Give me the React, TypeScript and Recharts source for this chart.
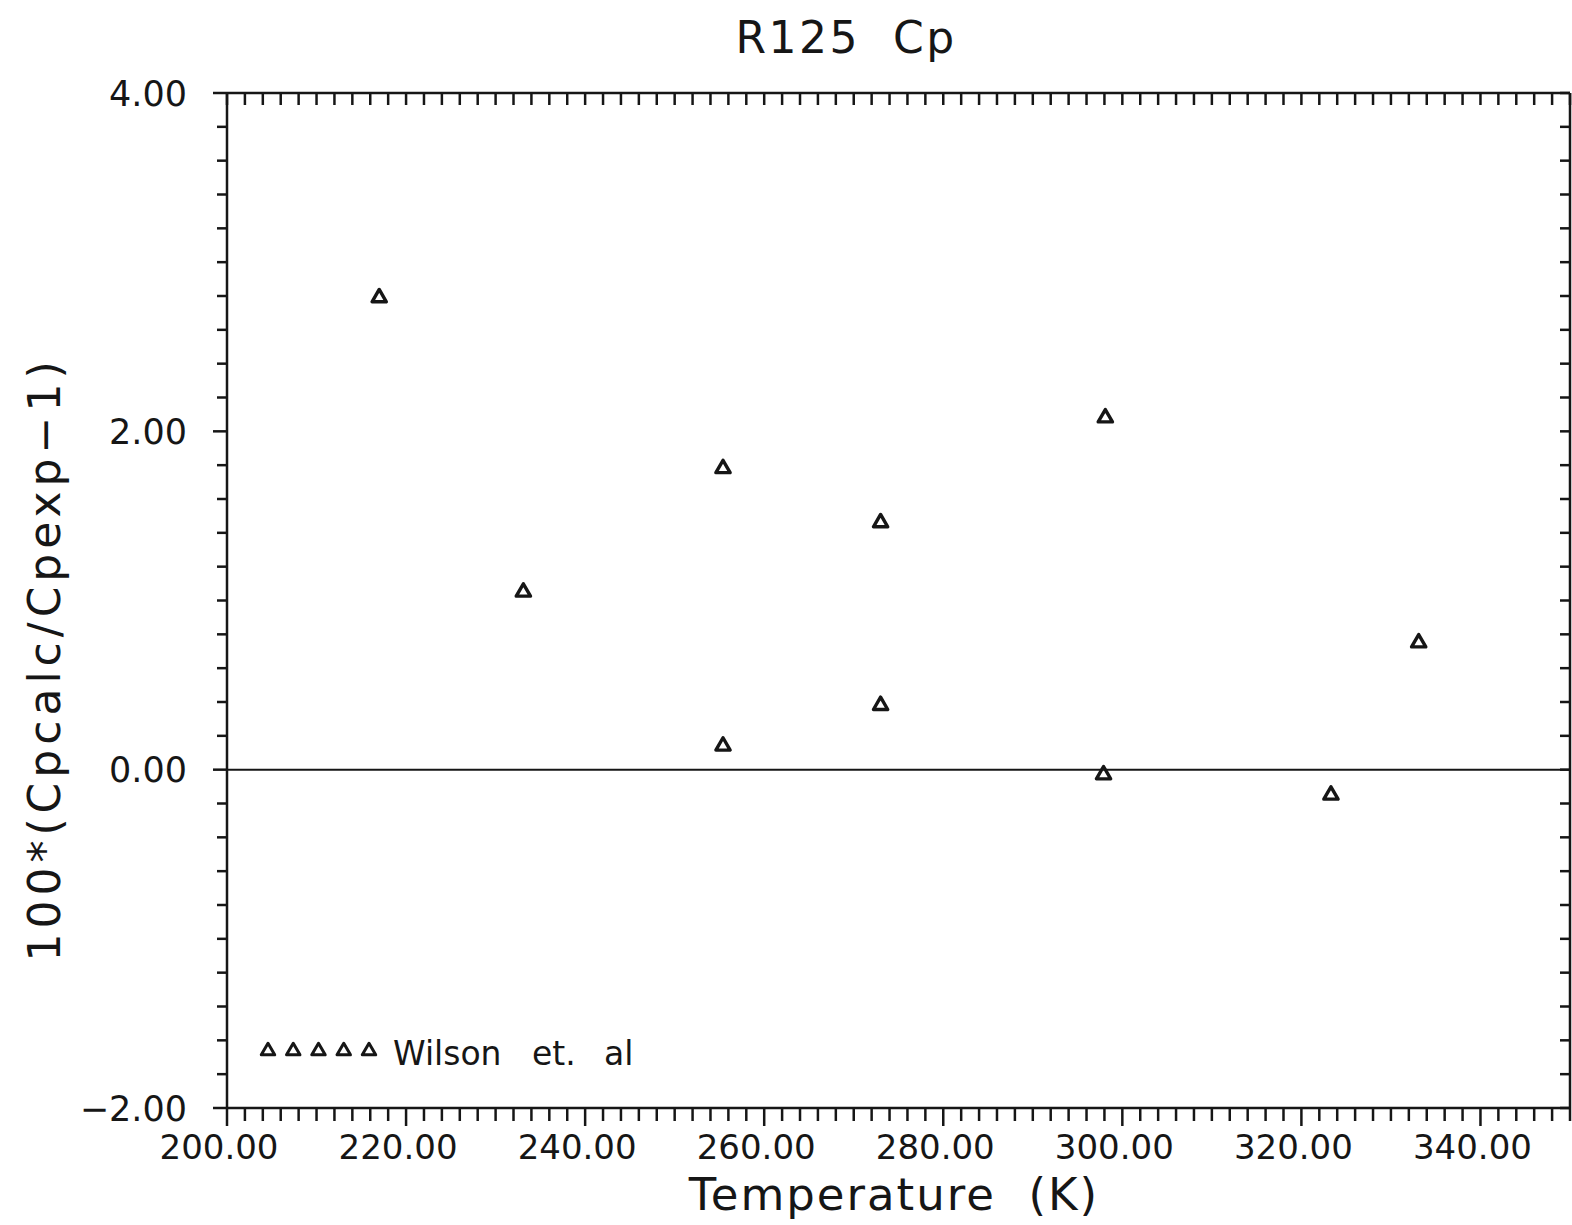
// R125 Cp deviation plot — Wilson et al. data against calculated Cp.
// Plotter-style frame: ticks on all four sides, zero line, one symbol series.

import { Legend, ReferenceLine, Scatter, ScatterChart, Symbols, XAxis, YAxis } from "recharts";

const INK = "#161616";
const FONT = "'DejaVu Sans', sans-serif";

// triangle centres
const temperatureK = [217.0, 233.1, 255.4, 255.4, 273.0, 273.0, 298.1, 297.9, 323.3, 333.1];
const deviationPct = [2.79, 1.05, 1.78, 0.14, 1.46, 0.38, 2.08, -0.03, -0.15, 0.75];

const xDomain = [200, 350];
const yDomain = [-2, 4];
const xLabelTicks = [200, 220, 240, 260, 280, 300, 320, 340];
const yLabelTicks = [-2, 0, 2, 4];

// minor ticks: every 2 K and every 0.2 %
const xTicks = Array.from({ length: 76 }, (_, i) => 200 + 2 * i);
const yTicks = Array.from({ length: 31 }, (_, i) => Math.round((-2 + 0.2 * i) * 10) / 10);

const points = temperatureK.map((t, i) => ({ t, d: deviationPct[i] }));

const fmt = (v: number) => (v < 0 ? "\u2212" : "") + Math.abs(v).toFixed(2);
const isMajor = (list: number[], v: number) => list.some((m) => Math.abs(m - v) < 1e-6);

function BottomTick(p: any) {
  const major = isMajor(xLabelTicks, p.payload.value);
  return (
    <g>
      <line x1={p.x} x2={p.x} y1={p.y} y2={p.y + (major ? 18 : 13)} stroke={INK} strokeWidth={2.5} />
      {major && (
        <text x={p.x - 8} y={p.y + 51} textAnchor="middle" fontFamily={FONT} fontSize={34} fill={INK}>
          {fmt(p.payload.value)}
        </text>
      )}
    </g>
  );
}

function TopTick(p: any) {
  return <line x1={p.x} x2={p.x} y1={p.y} y2={p.y + 12} stroke={INK} strokeWidth={2.5} />;
}

function LeftTick(p: any) {
  const major = isMajor(yLabelTicks, p.payload.value);
  return (
    <g>
      <line x1={p.x} x2={p.x - (major ? 14 : 10)} y1={p.y} y2={p.y} stroke={INK} strokeWidth={2.5} />
      {major && (
        <text x={p.x - 40} y={p.y + 12.5} textAnchor="end" fontFamily={FONT} fontSize={35} fill={INK}>
          {fmt(p.payload.value)}
        </text>
      )}
    </g>
  );
}

function RightTick(p: any) {
  return <line x1={p.x} x2={p.x - 10} y1={p.y} y2={p.y} stroke={INK} strokeWidth={2.5} />;
}

function Triangle(p: any) {
  return (
    <Symbols
      cx={p.cx}
      cy={p.cy}
      type="triangle"
      size={88}
      fill="none"
      stroke={INK}
      strokeWidth={3.4}
      strokeLinejoin="round"
    />
  );
}

// binds the top / right frame axes so their ticks get laid out; draws nothing
const Nothing = () => <g />;

function WilsonLegend() {
  return (
    <svg width={420} height={46}>
      {[0, 1, 2, 3, 4].map((i) => (
        <Symbols
          key={i}
          cx={13 + 25.25 * i}
          cy={21}
          type="triangle"
          size={78}
          fill="none"
          stroke={INK}
          strokeWidth={3}
          strokeLinejoin="round"
        />
      ))}
      <text y={35} fontFamily={FONT} fontSize={33} fill={INK}>
        <tspan x={138}>Wilson</tspan>
        <tspan x={277}>et.</tspan>
        <tspan x={349}>al</tspan>
      </text>
    </svg>
  );
}

export default function App() {
  return (
    <div style={{ position: "absolute", left: 0, top: 0, width: 1572, height: 1225, background: "#fff" }}>
      <ScatterChart width={1572} height={1225} margin={{ top: 0, right: 0, bottom: 0, left: 0 }}>
        <XAxis
          dataKey="t"
          type="number"
          domain={xDomain}
          ticks={xTicks}
          interval={0}
          allowDataOverflow
          height={117}
          tickSize={0}
          tickMargin={0}
          tickLine={false}
          axisLine={{ stroke: INK, strokeWidth: 2.5 }}
          tick={BottomTick}
        />
        <XAxis
          xAxisId="top"
          dataKey="t"
          orientation="top"
          type="number"
          domain={xDomain}
          ticks={xTicks}
          interval={0}
          allowDataOverflow
          height={93}
          tickSize={0}
          tickMargin={0}
          tickLine={false}
          axisLine={{ stroke: INK, strokeWidth: 2.5 }}
          tick={TopTick}
        />
        <YAxis
          dataKey="d"
          type="number"
          domain={yDomain}
          ticks={yTicks}
          interval={0}
          allowDataOverflow
          width={227}
          tickSize={0}
          tickMargin={0}
          tickLine={false}
          axisLine={{ stroke: INK, strokeWidth: 2.5 }}
          tick={LeftTick}
        />
        <YAxis
          yAxisId="right"
          dataKey="d"
          orientation="right"
          type="number"
          domain={yDomain}
          ticks={yTicks}
          interval={0}
          allowDataOverflow
          width={2}
          tickSize={0}
          tickMargin={0}
          tickLine={false}
          axisLine={{ stroke: INK, strokeWidth: 2.5 }}
          tick={RightTick}
        />
        <ReferenceLine y={0} stroke={INK} strokeWidth={2} />
        <Scatter data={points} name="Wilson et. al" shape={Triangle} isAnimationActive={false} />
        <Scatter
          data={points}
          xAxisId="top"
          yAxisId="right"
          shape={Nothing}
          legendType="none"
          isAnimationActive={false}
        />
        <Legend
          layout="vertical"
          align="center"
          verticalAlign="middle"
          wrapperStyle={{ left: 255, top: 1030, width: 420, height: 46 }}
          content={() => <WilsonLegend />}
        />
      </ScatterChart>

      <svg
        width={1572}
        height={1225}
        style={{ position: "absolute", left: 0, top: 0, pointerEvents: "none" }}
      >
        <text x={846} y={53} textAnchor="middle" fontFamily={FONT} fontSize={44} letterSpacing={2.5} fill={INK} style={{ whiteSpace: "pre" }}>
          {"R125  Cp"}
        </text>
        <text x={894} y={1210} textAnchor="middle" fontFamily={FONT} fontSize={45} letterSpacing={2} fill={INK} style={{ whiteSpace: "pre" }}>
          {"Temperature  (K)"}
        </text>
        <text
          transform="translate(60 659) rotate(-90)"
          textAnchor="middle"
          fontFamily={FONT}
          fontSize={44}
          letterSpacing={5}
          fill={INK}
        >
          100*(Cpcalc/Cpexp−1)
        </text>
      </svg>
    </div>
  );
}
